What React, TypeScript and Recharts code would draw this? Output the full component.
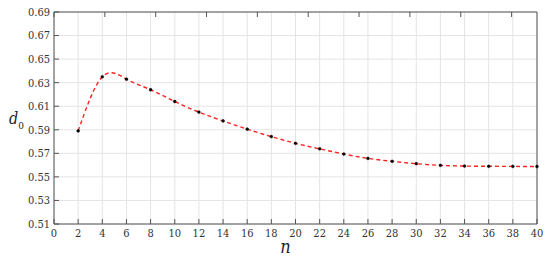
import React from "react";
import {
  LineChart,
  Line,
  XAxis,
  YAxis,
  CartesianGrid,
  Label,
} from "recharts";

const nValues = [2, 4, 6, 8, 10, 12, 14, 16, 18, 20, 22, 24, 26, 28, 30, 32, 34, 36, 38, 40];
const d0Values = [
  0.589, 0.635, 0.633, 0.624, 0.614, 0.605, 0.5975, 0.5905, 0.5842, 0.5785,
  0.5738, 0.5694, 0.5657, 0.5632, 0.5612, 0.5598, 0.5592, 0.559, 0.5589, 0.5588,
];
const xTicks = [0, 2, 4, 6, 8, 10, 12, 14, 16, 18, 20, 22, 24, 26, 28, 30, 32, 34, 36, 38, 40];
const yTicks = [0.51, 0.53, 0.55, 0.57, 0.59, 0.61, 0.63, 0.65, 0.67, 0.69];

const data = nValues.map((n, i) => ({ n, d0: d0Values[i] }));

const font = "'DejaVu Serif Condensed', 'DejaVu Serif', serif";
const axisColor = "#555";
const tickStyle = { fontSize: 11, fill: "#333", fontFamily: font };

const YLabel = () => (
  <text x={9} y={124} style={{ fontFamily: font }} fill="#222" fontStyle="italic" fontSize={16}>
    d
    <tspan fontStyle="normal" fontSize={10} dy={5}>
      0
    </tspan>
  </text>
);

const App = () => {
  return (
    <div
      style={{
        position: "absolute",
        left: 0,
        top: 0,
        width: 550,
        height: 259,
        background: "#fff",
        fontFamily: font,
      }}
    >
      <LineChart
        width={550}
        height={259}
        data={data}
        margin={{ top: 11, right: 12, left: 0, bottom: 0 }}
        style={{ fontFamily: font }}
      >
        <CartesianGrid stroke="#e4e4e4" xAxisId="bottom" yAxisId="left" />
        <XAxis
          xAxisId="bottom"
          dataKey="n"
          type="number"
          domain={[0, 40]}
          ticks={xTicks}
          interval={0}
          height={35}
          stroke={axisColor}
          tickSize={-5}
          tickMargin={10}
          tick={tickStyle}
        >
          <Label
            value="n"
            position="insideBottom"
            offset={6}
            dx={-10}
            style={{ fontFamily: font, fontStyle: "italic", fontSize: 18, fill: "#222" }}
          />
        </XAxis>
        <XAxis
          xAxisId="top"
          orientation="top"
          type="number"
          domain={[0, 40]}
          ticks={xTicks}
          interval={0}
          height={1}
          stroke={axisColor}
          tickSize={-5}
          tickFormatter={() => ""}
        />
        <YAxis
          yAxisId="left"
          type="number"
          domain={[0.51, 0.69]}
          ticks={yTicks}
          interval={0}
          width={54}
          stroke={axisColor}
          tickSize={-5}
          tickMargin={9}
          tick={tickStyle}
          tickFormatter={(v: number) => v.toFixed(2)}
          label={<YLabel />}
        />
        <YAxis
          yAxisId="right"
          orientation="right"
          type="number"
          domain={[0.51, 0.69]}
          ticks={yTicks}
          interval={0}
          width={1}
          stroke={axisColor}
          tickSize={-5}
          tickFormatter={() => ""}
        />
        <Line
          xAxisId="bottom"
          yAxisId="left"
          type="natural"
          dataKey="d0"
          stroke="#f22"
          strokeWidth={1.4}
          strokeDasharray="4 3"
          dot={{ r: 1.4, fill: "#000", stroke: "#000", strokeWidth: 0.5, strokeDasharray: "" }}
          isAnimationActive={false}
        />
      </LineChart>
    </div>
  );
};

export default App;
